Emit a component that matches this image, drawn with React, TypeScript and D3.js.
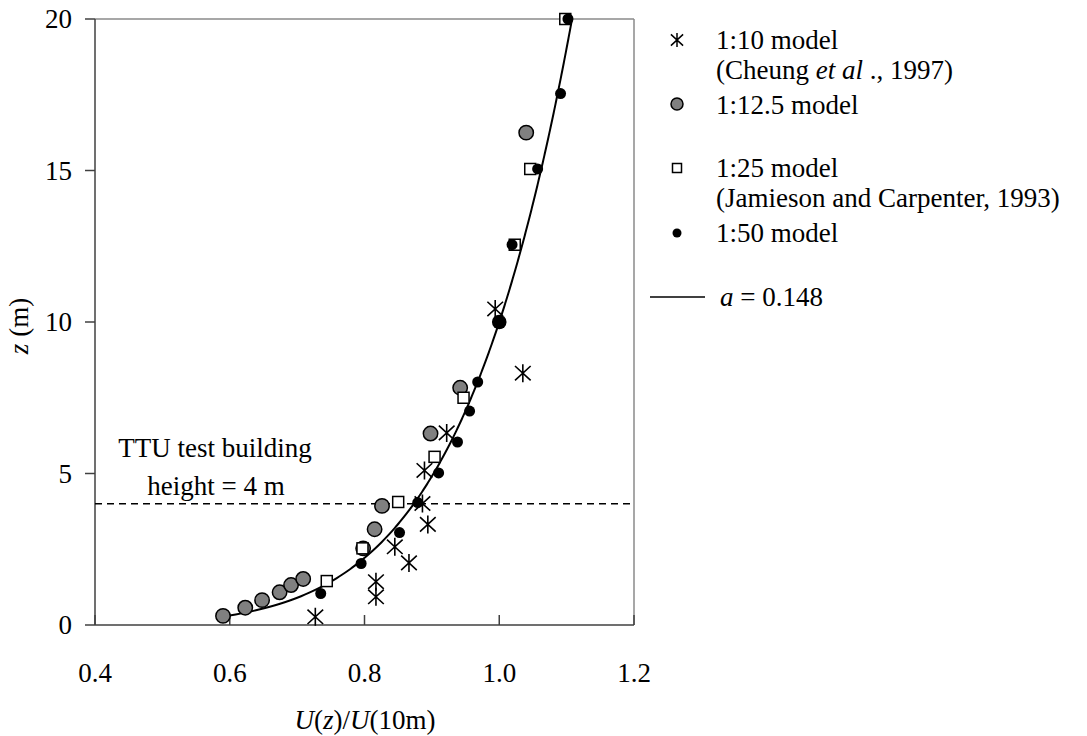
import React from "react";
import * as d3 from "d3";

// 1:10 model (Cheung et al., 1997)
const model10U = [0.727, 0.817, 0.817, 0.845, 0.866, 0.894, 0.886, 0.889, 0.922, 1.035, 0.994];
const model10Z = [0.27, 0.93, 1.43, 2.58, 2.05, 3.32, 4.01, 5.1, 6.34, 8.31, 10.43];

// 1:12.5 model
const model12U = [0.59, 0.623, 0.648, 0.674, 0.691, 0.709, 0.798, 0.815, 0.826, 0.898, 0.942, 1.04];
const model12Z = [0.3, 0.57, 0.82, 1.08, 1.32, 1.52, 2.53, 3.16, 3.93, 6.32, 7.83, 16.25];

// 1:25 model (Jamieson and Carpenter, 1993)
const model25U = [0.744, 0.797, 0.85, 0.904, 0.947, 1.023, 1.046, 1.098];
const model25Z = [1.45, 2.53, 4.06, 5.55, 7.5, 12.55, 15.05, 20.0];

// 1:50 model
const model50U = [0.735, 0.795, 0.852, 0.879, 0.91, 0.938, 0.956, 0.968, 1.019, 1.057, 1.091, 1.102];
const model50Z = [1.04, 2.03, 3.05, 4.04, 5.02, 6.04, 7.06, 8.02, 12.55, 15.05, 17.54, 20.0];

// normalisation height: every profile equals 1 at 10 m
const refU = [1.0];
const refZ = [10];

// power-law profile exponent
const alpha = 0.148;
const curveZStart = 0.3;
const curveZEnd = 20;

const xTicks = [0.4, 0.6, 0.8, 1.0, 1.2];
const yTicks = [0, 5, 10, 15, 20];
const buildingHeight = 4;

const FONT = "'Liberation Serif', 'Times New Roman', serif";
const FS = 27;

const x = d3.scaleLinear().domain([0.4, 1.2]).range([95, 634]);
const y = d3.scaleLinear().domain([0, 20]).range([625, 19]);

function Asterisk({ cx, cy, s, sw }: { cx: number; cy: number; s: number; sw: number }) {
  const d = `M${cx},${cy - s}L${cx},${cy + s}M${cx - s * 0.87},${cy - s * 0.8}L${cx + s * 0.87},${cy + s * 0.8}M${cx - s * 0.87},${cy + s * 0.8}L${cx + s * 0.87},${cy - s * 0.8}`;
  return <path d={d} stroke="#000" strokeWidth={sw} fill="none" />;
}

export default function App() {
  const zs = d3.range(curveZStart, curveZEnd + 0.0001, 0.05);
  const line = d3
    .line<number>()
    .x((z) => x(Math.pow(z / 10, alpha)))
    .y((z) => y(z))
    .curve(d3.curveLinear);

  const [x0, x1] = x.range();
  const [y0, y1] = y.range();

  return (
    <svg width={1087} height={736} style={{ position: "absolute", left: 0, top: 0 }} fontFamily={FONT}>
      <rect x={0} y={0} width={1087} height={736} fill="#fff" />

      {/* frame */}
      <line x1={x0} x2={x1} y1={y1} y2={y1} stroke="#8a8a8a" strokeWidth={1.5} />
      <line x1={x1} x2={x1} y1={y1} y2={y0} stroke="#8a8a8a" strokeWidth={1.5} />
      <line x1={x0} x2={x0} y1={y1} y2={y0} stroke="#404040" strokeWidth={1.5} />
      <line x1={x0} x2={x1} y1={y0} y2={y0} stroke="#404040" strokeWidth={1.5} />

      {/* y ticks */}
      {yTicks.map((t) => (
        <g key={"y" + t}>
          <line x1={x0 - 10} x2={x0} y1={y(t)} y2={y(t)} stroke="#404040" strokeWidth={1.5} />
          <text x={72} y={y(t)} dy="0.35em" textAnchor="end" fontSize={FS}>
            {t}
          </text>
        </g>
      ))}

      {/* x ticks */}
      {xTicks.map((t) => (
        <g key={"x" + t}>
          <line x1={x(t)} x2={x(t)} y1={y0} y2={y0 - 10} stroke="#404040" strokeWidth={1.5} />
          <text x={x(t)} y={682} textAnchor="middle" fontSize={FS}>
            {t.toFixed(1)}
          </text>
        </g>
      ))}

      {/* axis titles */}
      <text x={365} y={729} textAnchor="middle" fontSize={FS}>
        <tspan fontStyle="italic">U</tspan>
        <tspan>(</tspan>
        <tspan fontStyle="italic">z</tspan>
        <tspan>)/</tspan>
        <tspan fontStyle="italic">U</tspan>
        <tspan>(10m)</tspan>
      </text>
      <text transform="translate(28,326) rotate(-90)" textAnchor="middle" fontSize={FS}>
        <tspan fontStyle="italic">z</tspan>
        <tspan> (m)</tspan>
      </text>

      {/* building height */}
      <line
        x1={x0}
        x2={x1}
        y1={y(buildingHeight)}
        y2={y(buildingHeight)}
        stroke="#000"
        strokeWidth={1.5}
        strokeDasharray="7 5"
      />
      <text x={215} y={457} textAnchor="middle" fontSize={FS}>
        TTU test building
      </text>
      <text x={216} y={495} textAnchor="middle" fontSize={FS}>
        height = 4 m
      </text>

      {/* power-law profile */}
      <path d={line(zs) || ""} fill="none" stroke="#000" strokeWidth={2} />

      {/* 1:10 */}
      {model10U.map((u, i) => (
        <Asterisk key={"a" + i} cx={x(u)} cy={y(model10Z[i])} s={9} sw={1.6} />
      ))}
      {/* 1:12.5 */}
      {model12U.map((u, i) => (
        <circle key={"c" + i} cx={x(u)} cy={y(model12Z[i])} r={7.2} fill="#808080" stroke="#000" strokeWidth={1.5} />
      ))}
      {/* 1:25 */}
      {model25U.map((u, i) => (
        <rect
          key={"s" + i}
          x={x(u) - 5.5}
          y={y(model25Z[i]) - 5.5}
          width={11}
          height={11}
          fill="#fff"
          stroke="#000"
          strokeWidth={1.5}
        />
      ))}
      {/* 1:50 */}
      {model50U.map((u, i) => (
        <circle key={"d" + i} cx={x(u)} cy={y(model50Z[i])} r={5.5} fill="#000" />
      ))}
      {/* common normalisation point */}
      {refU.map((u, i) => (
        <circle key={"r" + i} cx={x(u)} cy={y(refZ[i])} r={7.3} fill="#000" />
      ))}

      {/* legend */}
      <g fontSize={FS}>
        <Asterisk cx={677} cy={40} s={7} sw={1.5} />
        <text x={716} y={49}>1:10 model</text>
        <text x={716} y={79}>
          (Cheung <tspan fontStyle="italic">et al</tspan> ., 1997)
        </text>
        <circle cx={677} cy={104} r={6} fill="#808080" stroke="#000" strokeWidth={1.5} />
        <text x={716} y={114}>1:12.5 model</text>
        <rect x={672.5} y={163.5} width={9} height={9} fill="#fff" stroke="#000" strokeWidth={1.5} />
        <text x={716} y={177}>1:25 model</text>
        <text x={716} y={207}>(Jamieson and Carpenter, 1993)</text>
        <circle cx={677} cy={233} r={4.5} fill="#000" />
        <text x={716} y={242}>1:50 model</text>
        <line x1={650} x2={705} y1={297} y2={297} stroke="#000" strokeWidth={1.5} />
        <text x={720} y={306}>
          <tspan fontStyle="italic">a</tspan>
          <tspan> = 0.148</tspan>
        </text>
      </g>
    </svg>
  );
}
